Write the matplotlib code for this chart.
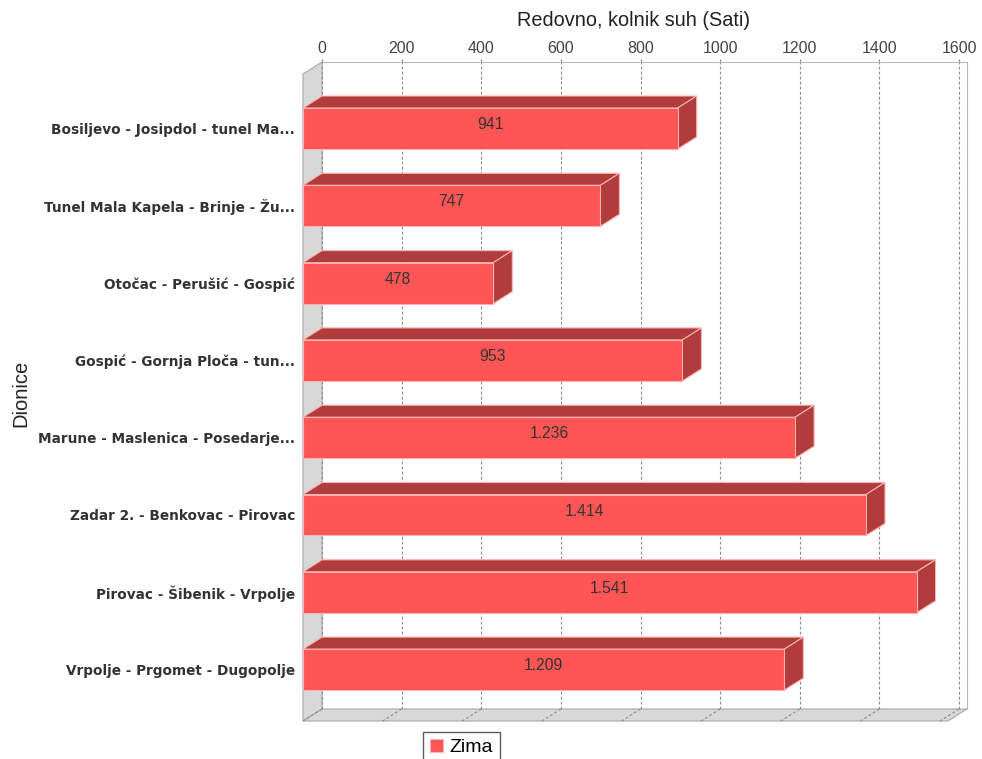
import numpy as np
import matplotlib
matplotlib.use("Agg")
import matplotlib.pyplot as plt
from matplotlib.patches import Polygon

# data
sections = ["Bosiljevo - Josipdol - tunel Ma...",
            "Tunel Mala Kapela - Brinje - Žu...",
            "Otočac - Perušić - Gospić",
            "Gospić - Gornja Ploča - tun...",
            "Marune - Maslenica - Posedarje...",
            "Zadar 2. - Benkovac - Pirovac",
            "Pirovac - Šibenik - Vrpolje",
            "Vrpolje - Prgomet - Dugopolje"]
hours = [941, 747, 478, 953, 1236, 1414, 1541, 1209]
series_name = "Zima"
x_ticks = [0, 200, 400, 600, 800, 1000, 1200, 1400, 1600]

# look
front_col = "#ff5555"
dark_col = "#b03c3c"
edge_col = "#ffb0b0"
wall_col = "#d8d8d8"
wall_edge = "#a8a8a8"

W, Hpx = 982, 759
fig = plt.figure(figsize=(W/100, Hpx/100), dpi=100)
# axes = back plane of the 3d plot
ax = fig.add_axes([322/W, 1-709/Hpx, 645/W, 647/Hpx])

xmax = 1620
ax.set_xlim(0, xmax)
ax.set_ylim(7.665, -0.705)

# 3d offset in data units (about 19 px left, 12 px down)
DX = 19 / (645/xmax)
DY = 12 / (647/8.37)
bh = 0.53

y = np.arange(len(sections))
ytop, ybot = ax.get_ylim()[1], ax.get_ylim()[0]

# left wall and floor
wall = Polygon([(0, ytop), (0, ybot), (-DX, ybot+DY), (-DX, ytop+DY)],
               closed=True, fc=wall_col, ec=wall_edge, lw=0.8, clip_on=False, zorder=0.5)
floor = Polygon([(0, ybot), (xmax, ybot), (xmax-DX, ybot+DY), (-DX, ybot+DY)],
                closed=True, fc=wall_col, ec=wall_edge, lw=0.8, clip_on=False, zorder=0.5)
ax.add_patch(wall)
ax.add_patch(floor)

# gridlines on back plane and floor
for t in x_ticks:
    ax.plot([t, t], [ybot, ytop], color="#8a8a8a", lw=0.8, ls=(0, (2.5, 2)), zorder=0.6)
    ax.plot([t, t-DX], [ybot, ybot+DY], color="#8a8a8a", lw=0.8, ls=(0, (2.5, 2)),
            zorder=0.7, clip_on=False)

# bars: front face
bars = ax.barh(y + DY, hours, left=-DX, height=bh, color=front_col, edgecolor=edge_col,
               lw=0.8, zorder=3, clip_on=False, label=series_name)
# top and side faces
for yi, v in zip(y, hours):
    t_f, b_f = yi + DY - bh/2, yi + DY + bh/2
    t_b, b_b = yi - bh/2, yi + bh/2
    top = Polygon([(-DX, t_f), (v-DX, t_f), (v, t_b), (0, t_b)], closed=True,
                  fc=dark_col, ec=edge_col, lw=0.8, zorder=2.9, clip_on=False)
    side = Polygon([(v-DX, t_f), (v, t_b), (v, b_b), (v-DX, b_f)], closed=True,
                   fc=dark_col, ec=edge_col, lw=0.8, zorder=2.9, clip_on=False)
    ax.add_patch(top)
    ax.add_patch(side)
    ax.text(v/2 - DX, yi + DY - 0.05, f"{v:,}".replace(",", "."), ha="center", va="center",
            fontsize=11.3, family="Liberation Sans", color="#333333", zorder=4)

# axes
ax.xaxis.tick_top()
ax.set_xticks(x_ticks)
ax.set_xticklabels([str(t) for t in x_ticks], family="Liberation Sans", fontsize=11.5, color="#444444")
ax.tick_params(axis="x", length=2.5, width=0.8, color="#8a8a8a", pad=1.5)
ax.set_yticks(y + DY)
ax.set_yticklabels(sections, family="DejaVu Sans", fontweight="bold", fontsize=9.8, color="#333333")
ax.tick_params(axis="y", length=0, pad=19.5)

for s in ["left", "bottom"]:
    ax.spines[s].set_visible(False)
for s in ["top", "right"]:
    ax.spines[s].set_color("#b8b8b8")
    ax.spines[s].set_linewidth(0.8)

fig.text(634/W, 1-20/Hpx, "Redovno, kolnik suh (Sati)", ha="center", va="center",
         family="Liberation Sans", fontsize=14.3, color="#222222")
fig.text(21/W, 1-393/Hpx, "Dionice", ha="center", va="center", rotation=90,
         family="Liberation Sans", fontsize=14.5, color="#222222")

leg = fig.legend(handles=[bars], loc="upper left", bbox_to_anchor=(423/W, 1-732/Hpx),
                 prop={"family": "Liberation Sans", "size": 14}, frameon=True, fancybox=False,
                 handlelength=0.7, handleheight=0.7, handletextpad=0.3, borderpad=0.35,
                 borderaxespad=0)
leg.get_frame().set_edgecolor("#333333")
leg.get_frame().set_linewidth(1)

fig.savefig("out.png", dpi=100)
